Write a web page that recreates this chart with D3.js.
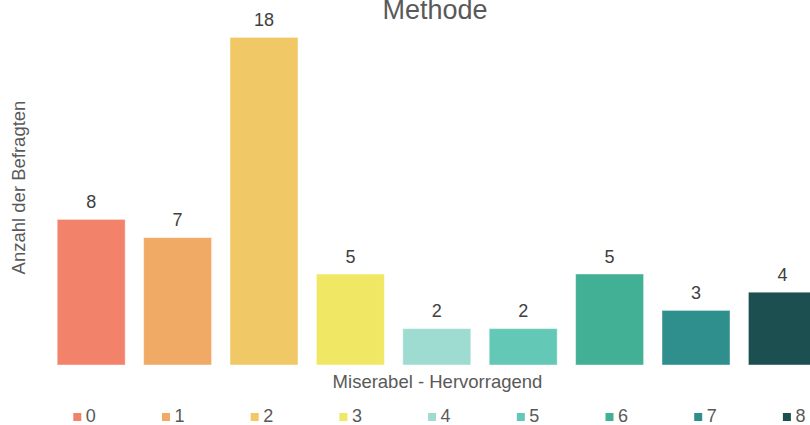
<!DOCTYPE html>
<html><head><meta charset="utf-8">
<script src="https://cdn.jsdelivr.net/npm/d3@7"></script>
<style>body{margin:0;background:#fff;}svg{display:block;font-family:"Liberation Sans",Arial,sans-serif;}</style>
</head><body>
<svg id="chart" width="810" height="425"></svg>
<script>
const categories = ["0","1","2","3","4","5","6","7","8"];
const values = [8,7,18,5,2,2,5,3,4];
const colors = ["#F2836A","#F0AA65","#F0C866","#F0E765","#9EDCD2","#63C8B5","#41B095","#2E8F8D","#1B4F50"];
const title = "Methode";
const xTitle = "Miserabel - Hervorragend";
const yTitle = "Anzahl der Befragten";

const svg = d3.select("#chart");
const x = d3.scaleBand().domain(categories).range([48, 825.6]).paddingInner(0.213).paddingOuter(0.1065);
const y = d3.scaleLinear().domain([0, 18]).range([365, 37.4]);

svg.append("g").selectAll("rect").data(values).join("rect")
  .attr("x", (d,i) => x(categories[i]))
  .attr("y", d => y(d))
  .attr("width", x.bandwidth())
  .attr("height", d => y(0) - y(d))
  .attr("fill", (d,i) => colors[i])
  .attr("stroke", "rgba(255,255,255,0.45)")
  .attr("stroke-width", 1);

svg.append("g").selectAll("text").data(values).join("text")
  .attr("x", (d,i) => x(categories[i]) + x.bandwidth()/2)
  .attr("y", d => y(d) - 11.5)
  .attr("text-anchor", "middle")
  .attr("font-size", 18)
  .attr("fill", "#404040")
  .text(d => d);

svg.append("text").attr("x", 435).attr("y", 19).attr("text-anchor","middle")
  .attr("font-size", 27).attr("fill","#595959").text(title);

svg.append("text").attr("x", 437.5).attr("y", 387.5).attr("text-anchor","middle")
  .attr("font-size", 18.5).attr("fill","#595959").text(xTitle);

svg.append("text").attr("transform","translate(25,187.5) rotate(-90)").attr("text-anchor","middle")
  .attr("font-size", 18.5).attr("fill","#595959").text(yTitle);

const lx = d3.scaleBand().domain(categories).range([73.3, 73.3 + 88.7*9]);
const lg = svg.append("g").selectAll("g").data(categories).join("g")
  .attr("transform", d => `translate(${lx(d)},0)`);
lg.append("rect").attr("x",0).attr("y",413).attr("width",8).attr("height",8)
  .attr("fill", (d,i) => colors[i]);
lg.append("text").attr("x",12.5).attr("y",421.5).attr("font-size",18).attr("fill","#595959").text(d => d);
</script>
</body></html>
